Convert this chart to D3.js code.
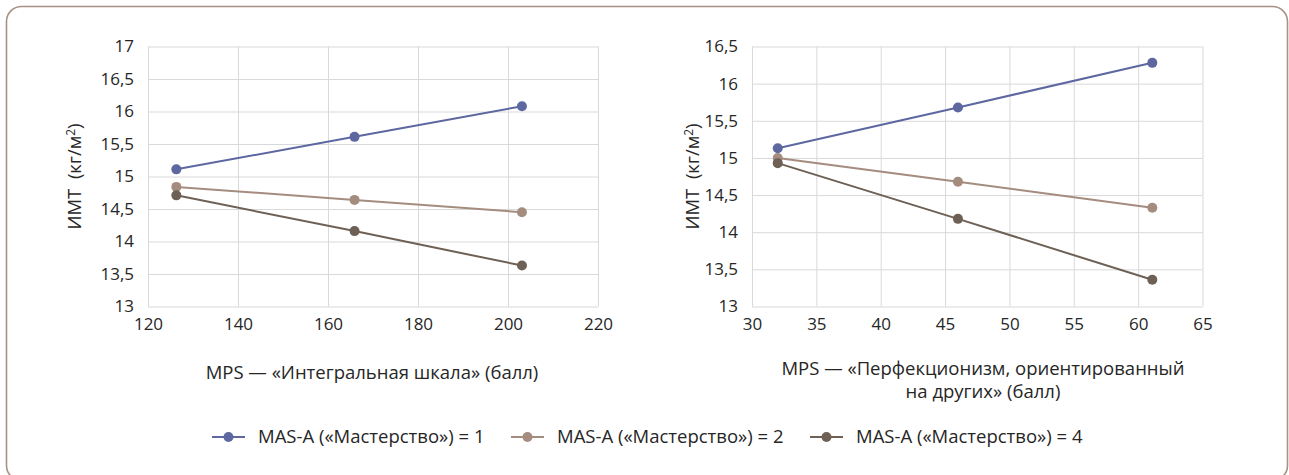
<!DOCTYPE html>
<html>
<head>
<meta charset="utf-8">
<script src="https://cdn.jsdelivr.net/npm/d3@7"></script>
<style>
  body { margin: 0; background: #fff; }
  svg { font-family: "Open Sans", sans-serif; }
  .grid line { stroke: #d9d9d9; stroke-width: 1; }
  .grid .domain { display: none; }
</style>
</head>
<body>
<div id="chart"></div>
<script>
// series names
const seriesNames = ["MAS-A («Мастерство») = 1", "MAS-A («Мастерство») = 2", "MAS-A («Мастерство») = 4"];
const seriesColors = ["#5d67a0", "#a48c7f", "#6e6054"];

// left panel: MPS integral scale
const leftX = [126.3, 165.9, 203.1];
const leftS1 = [15.11, 15.61, 16.08];
const leftS2 = [14.84, 14.64, 14.45];
const leftS4 = [14.71, 14.16, 13.63];
const leftXTicks = [120, 140, 160, 180, 200, 220];
const leftYTicks = [13, 13.5, 14, 14.5, 15, 15.5, 16, 16.5, 17];

// right panel: other-oriented perfectionism
const rightX = [32, 46, 61.1];
const rightS1 = [15.13, 15.68, 16.28];
const rightS2 = [15.0, 14.68, 14.33];
const rightS4 = [14.93, 14.18, 13.36];
const rightXTicks = [30, 35, 40, 45, 50, 55, 60, 65];
const rightYTicks = [13, 13.5, 14, 14.5, 15, 15.5, 16, 16.5];

const leftXTitle = ["MPS — «Интегральная шкала» (балл)"];
const rightXTitle = ["MPS — «Перфекционизм, ориентированный", "на других» (балл)"];

const W = 1289, H = 475;
const FONT = "'Open Sans', sans-serif";
const TEXT = "#262626";
const fmt = d => String(d).replace(".", ",");

const svg = d3.select("#chart").append("svg")
    .attr("width", W)
    .attr("height", H);

// rounded frame
svg.append("rect")
    .attr("x", 6.5).attr("y", 6.5)
    .attr("width", 1281).attr("height", 474)
    .attr("rx", 15).attr("ry", 15)
    .attr("fill", "#fff")
    .attr("stroke", "#a89184")
    .attr("stroke-width", 1.6);

const drawPanel = (box, xs, series, xTicks, yTicks, xTitle, yLabelX, titleX) => {
    const x = d3.scaleLinear().domain(d3.extent(xTicks)).range([box.left, box.right]);
    const y = d3.scaleLinear().domain(d3.extent(yTicks)).range([box.bottom, box.top]);

    // x gridlines + labels
    const gx = svg.append("g")
        .attr("class", "grid")
        .attr("transform", `translate(0,${box.bottom})`)
        .call(d3.axisBottom(x).tickValues(xTicks).tickSize(-(box.bottom - box.top)).tickPadding(9).tickFormat(fmt))
        .attr("font-family", FONT)
        .attr("font-size", 17);
    gx.selectAll("text").attr("fill", TEXT).attr("dy", "0.85em");

    // y gridlines + labels
    const gy = svg.append("g")
        .attr("class", "grid")
        .attr("transform", `translate(${box.left},0)`)
        .call(d3.axisLeft(y).tickValues(yTicks).tickSize(-(box.right - box.left)).tickPadding(14).tickFormat(fmt))
        .attr("font-family", FONT)
        .attr("font-size", 17);
    gy.selectAll("text").attr("fill", TEXT);

    const line = d3.line().x((d, i) => x(xs[i])).y(d => y(d));

    series.forEach((vals, si) => {
        svg.append("path")
            .datum(vals)
            .attr("fill", "none")
            .attr("stroke", seriesColors[si])
            .attr("stroke-width", 2)
            .attr("d", line);
        svg.append("g").selectAll("circle")
            .data(vals)
            .join("circle")
            .attr("cx", (d, i) => x(xs[i]))
            .attr("cy", d => y(d))
            .attr("r", 5)
            .attr("fill", seriesColors[si]);
    });

    // y title
    const yt = svg.append("text")
        .attr("transform", `translate(${yLabelX},${(box.top + box.bottom) / 2}) rotate(-90)`)
        .attr("text-anchor", "middle")
        .attr("dy", "0.35em")
        .attr("font-size", 18.5)
        .attr("fill", TEXT);
    yt.append("tspan").text("ИМТ\u00a0\u00a0(кг/м");
    yt.append("tspan").attr("font-size", 12).attr("dy", "-0.55em").text("2");
    yt.append("tspan").attr("dy", "0.35em").text(")");

    // x title
    const t = svg.append("text")
        .attr("text-anchor", "middle")
        .attr("font-size", 18.5)
        .attr("fill", TEXT);
    const y0 = xTitle.length > 1 ? 374.5 : 378.5;
    xTitle.forEach((s, i) => {
        t.append("tspan").attr("x", titleX).attr("y", y0 + i * 23.5).text(s);
    });
};

drawPanel({ left: 148, right: 598, top: 46.5, bottom: 306.5 }, leftX,
    [leftS1, leftS2, leftS4], leftXTicks, leftYTicks, leftXTitle, 75, 372);
drawPanel({ left: 752, right: 1202.5, top: 46.5, bottom: 306.5 }, rightX,
    [rightS1, rightS2, rightS4], rightXTicks, rightYTicks, rightXTitle, 693, 983);

// legend
const legendX = [212, 511, 810];
const lg = svg.append("g");
seriesNames.forEach((name, i) => {
    const g = lg.append("g").attr("transform", `translate(${legendX[i]},437)`);
    g.append("line").attr("x1", 0).attr("x2", 33).attr("stroke", seriesColors[i]).attr("stroke-width", 2);
    g.append("circle").attr("cx", 16.5).attr("r", 5).attr("fill", seriesColors[i]);
    g.append("text").attr("x", 46).attr("dy", "0.35em")
        .attr("font-size", 18.5).attr("fill", TEXT).text(name);
});
</script>
</body>
</html>
